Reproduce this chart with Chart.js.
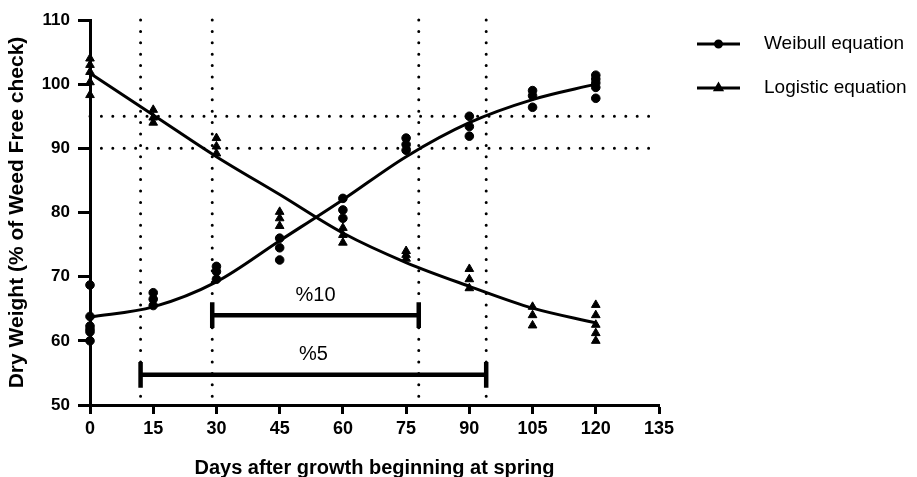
<!DOCTYPE html>
<html>
<head>
<meta charset="utf-8">
<script src="https://cdn.jsdelivr.net/npm/chart.js@4.4.1/dist/chart.umd.min.js"></script>
<style>
  html, body { margin: 0; padding: 0; background: #fff; }
  #wrap { width: 917px; height: 477px; }
</style>
</head>
<body>
<div id="wrap"><canvas id="chart" width="917" height="477"></canvas></div>
<script>
// fitted curves at the sampling days
const days = [0, 15, 30, 45, 60, 75, 90, 105, 120];
const weibullFit = [63.7, 65.3, 69.2, 75.6, 82.0, 88.7, 94.0, 97.6, 100.0];
const logisticFit = [101.7, 95.2, 88.7, 82.8, 76.8, 72.2, 68.5, 65.1, 62.8];

// observed replicates
const weibullObsDays = [0, 0, 0, 0, 0, 0, 15, 15, 15, 30, 30, 30, 45, 45, 45, 60, 60, 60,
  75, 75, 75, 90, 90, 90, 105, 105, 105, 120, 120, 120, 120, 120];
const weibullObs = [68.7, 63.8, 62.3, 61.8, 61.4, 60.0, 67.5, 66.5, 65.5, 71.6, 70.8, 69.6,
  76.0, 74.5, 72.6, 82.2, 80.4, 79.1, 91.6, 90.6, 89.7, 95.0, 93.4, 91.9, 99.0, 98.2, 96.4,
  101.4, 100.8, 100.2, 99.5, 97.8];
const logisticObsDays = [0, 0, 0, 0, 0, 15, 15, 15, 30, 30, 30, 45, 45, 45, 60, 60, 60,
  75, 75, 75, 90, 90, 90, 105, 105, 105, 120, 120, 120, 120, 120];
const logisticObs = [104.0, 103.0, 101.9, 100.3, 98.3, 96.0, 94.8, 94.0, 91.6, 90.3, 89.2,
  80.1, 79.1, 77.9, 77.6, 76.5, 75.3, 74.0, 73.4, 72.8, 71.2, 69.6, 68.2, 65.3, 64.0, 62.4,
  65.6, 64.0, 62.5, 61.2, 60.0];

// critical period markers
const cutoffDays = [12, 29, 78, 94];
const cutoffLevels = [95, 90];
const bandLabels = ['%10', '%5'];
const bandStart = [29, 12];
const bandEnd = [78, 94];
const bandLevel = [64, 54.7];
const capHalf = 2;

const xTicks = { min: 0, max: 135, step: 15 };
const yTicks = { min: 50, max: 110, step: 10 };

const FONT = '"Liberation Sans", Arial, Helvetica, sans-serif';
Chart.defaults.font.family = FONT;
Chart.defaults.color = '#000';

const toXY = (xs, ys) => xs.map((d, i) => ({ x: d, y: ys[i] }));

const dotted = {
  borderColor: '#000', borderWidth: 3, borderDash: [0, 11.4], borderCapStyle: 'round',
  pointRadius: 0, fill: false, showLine: true, clip: false
};

const datasets = [
  { label: 'Weibull equation', data: toXY(weibullObsDays, weibullObs), showLine: false,
    pointStyle: 'circle', pointRadius: 4.3, backgroundColor: '#000', borderColor: '#000', clip: false },
  { label: 'Logistic equation', data: toXY(logisticObsDays, logisticObs), showLine: false,
    pointStyle: 'triangle', pointRadius: 5, backgroundColor: '#000', borderColor: '#000', clip: false },
  { label: 'Weibull fit', data: toXY(days, weibullFit), showLine: true, borderColor: '#000',
    borderWidth: 3, pointRadius: 0, cubicInterpolationMode: 'monotone', clip: false },
  { label: 'Logistic fit', data: toXY(days, logisticFit), showLine: true, borderColor: '#000',
    borderWidth: 3, pointRadius: 0, cubicInterpolationMode: 'monotone', clip: false }
];

bandLabels.forEach((name, i) => {
  datasets.push({
    label: name + ' bar',
    data: [
      { x: bandStart[i], y: bandLevel[i] }, { x: bandEnd[i], y: bandLevel[i] }
    ],
    showLine: true, borderColor: '#000', borderWidth: 4.5, pointRadius: 0, clip: false
  });
  datasets.push({
    label: name + ' caps',
    data: [
      { x: bandStart[i], y: bandLevel[i] - capHalf }, { x: bandStart[i], y: bandLevel[i] + capHalf },
      { x: bandStart[i], y: null },
      { x: bandEnd[i], y: bandLevel[i] - capHalf }, { x: bandEnd[i], y: bandLevel[i] + capHalf }
    ],
    showLine: true, spanGaps: false, borderColor: '#000', borderWidth: 4.5,
    pointRadius: 0, clip: false
  });
});

cutoffDays.forEach(d => {
  datasets.push(Object.assign({ label: 'day ' + d, data: [{ x: d, y: yTicks.max }, { x: d, y: yTicks.min }] }, dotted));
});
cutoffLevels.forEach(v => {
  datasets.push(Object.assign({ label: v + '%', data: [{ x: xTicks.min, y: v }, { x: xTicks.max, y: v }] }, dotted));
});

// "%10" / "%5" labels above the bars
const bandText = {
  id: 'bandText',
  afterDatasetsDraw(chart) {
    const { ctx, scales: { x, y } } = chart;
    ctx.save();
    ctx.font = '20px ' + FONT;
    ctx.fillStyle = '#000';
    ctx.textAlign = 'center';
    ctx.textBaseline = 'middle';
    bandLabels.forEach((t, i) => {
      const cx = x.getPixelForValue((bandStart[i] + bandEnd[i]) / 2);
      const cy = y.getPixelForValue(bandLevel[i]) - 20;
      ctx.fillText(t, cx, cy);
    });
    ctx.restore();
  }
};

// legend: line with marker, as in the original figure
const lineLegend = {
  id: 'lineLegend',
  afterDraw(chart) {
    const { ctx } = chart;
    const left = chart.chartArea.right + 38;
    const items = [chart.data.datasets[0], chart.data.datasets[1]];
    ctx.save();
    items.forEach((ds, i) => {
      const cy = 44 + i * 44;
      ctx.strokeStyle = '#000';
      ctx.lineWidth = 3;
      ctx.beginPath();
      ctx.moveTo(left, cy);
      ctx.lineTo(left + 43, cy);
      ctx.stroke();
      Chart.helpers.drawPoint(ctx, {
        pointStyle: ds.pointStyle, radius: ds.pointStyle === 'circle' ? 3 : 3.5,
        rotation: 0, borderWidth: 1
      }, left + 21.5, cy);
      ctx.fillStyle = '#000';
      ctx.fill();
      ctx.font = '19px ' + FONT;
      ctx.textAlign = 'left';
      ctx.textBaseline = 'middle';
      ctx.fillText(ds.label, left + 67, cy);
    });
    ctx.restore();
  }
};

new Chart(document.getElementById('chart'), {
  type: 'scatter',
  data: { datasets },
  options: {
    responsive: false,
    animation: false,
    devicePixelRatio: 1,
    layout: { padding: { top: 20, right: 258, bottom: 0, left: 0 } },
    plugins: { legend: { display: false }, tooltip: { enabled: false } },
    scales: {
      x: {
        type: 'linear', min: xTicks.min, max: xTicks.max,
        ticks: { stepSize: xTicks.step, color: '#000', padding: 4, maxRotation: 0,
          font: { size: 18, weight: 'bold' } },
        grid: { drawOnChartArea: false, drawTicks: true, tickLength: 9, tickWidth: 3, tickColor: '#000' },
        border: { display: true, width: 3, color: '#000' },
        title: { display: true, text: 'Days after growth beginning at spring', color: '#000',
          font: { size: 20, weight: 'bold' }, padding: { top: 0, bottom: -3 } },
        afterFit(scale) { scale.height = 72; }
      },
      y: {
        type: 'linear', min: yTicks.min, max: yTicks.max,
        ticks: { stepSize: yTicks.step, color: '#000', padding: 8,
          font: { size: 17, weight: 'bold' } },
        grid: { drawOnChartArea: false, drawTicks: true, tickLength: 12, tickWidth: 3, tickColor: '#000' },
        border: { display: true, width: 3, color: '#000' },
        title: { display: true, text: 'Dry Weight (% of Weed Free check)', color: '#000',
          font: { size: 21, weight: 'bold' }, padding: { top: 5, bottom: 0 } },
        afterFit(scale) { scale.width = 90; }
      }
    }
  },
  plugins: [bandText, lineLegend]
});
</script>
</body>
</html>
